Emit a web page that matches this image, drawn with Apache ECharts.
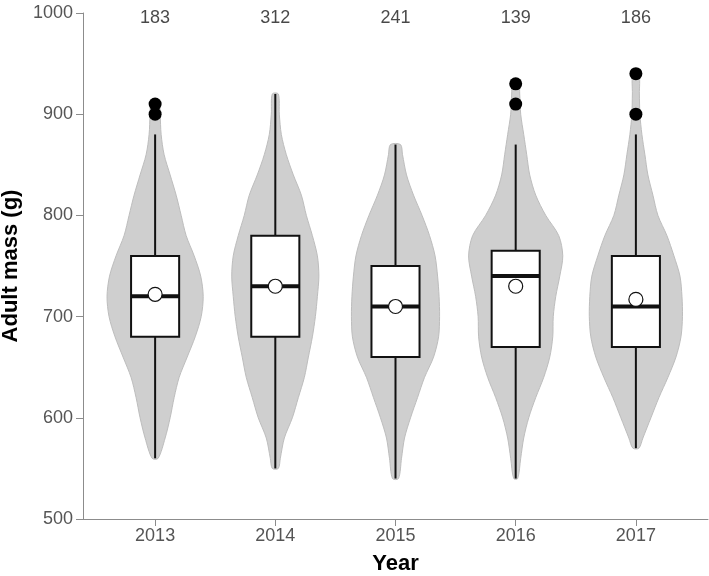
<!DOCTYPE html>
<html><head><meta charset="utf-8">
<script src="https://cdn.jsdelivr.net/npm/echarts@6/dist/echarts.min.js"></script>
<style>html,body{margin:0;padding:0;background:#fff}#c{width:709px;height:576px}</style>
</head><body><div id="c"></div>
<script>
const years = ['2013', '2014', '2015', '2016', '2017'];
const sampleSizes = [183, 312, 241, 139, 186];
const whiskerLow = [560, 550, 540, 540, 570];
const q1 = [680, 680, 660, 670, 670];
const medians = [720, 730, 710, 740, 710];
const q3 = [760, 780, 750, 765, 760];
const whiskerHigh = [880, 920, 870, 870, 880];
const means = [722, 730, 710, 730, 717];
const outlierYear = [0, 0, 3, 3, 4, 4];
const outlierMass = [900, 910, 910, 930, 900, 940];
const yTicks = [500, 600, 700, 800, 900, 1000];

// violin density profiles: mass levels and half-widths (per 120 units of category spacing)
const violinMass2013 = [560,580,600,620,640,660,680,700,720,740,760,780,800,820,840,860,880,900,910];
const violinWidth2013 = [3,10,15,19,24,32,40,46,48,45.5,39,31,26,21,15,9,6,5,4];
const violinMass2014 = [550,560,580,600,620,640,660,680,700,720,740,760,780,800,820,840,860,880,900,920];
const violinWidth2014 = [3,5,9,17,23,29,33,37,40,42,43.5,42,37,31,26,18,11,6,4,3];
const violinMass2015 = [540,560,580,600,620,640,660,680,700,720,740,760,780,800,820,840,860,870];
const violinWidth2015 = [3,6,9,15,22,29,38,43,44,43.5,42,39.5,34,26.5,18,11,7,5];
const violinMass2016 = [540,560,580,600,620,640,660,680,700,720,740,760,780,800,820,840,860,880,900,920,930];
const violinWidth2016 = [2,5,8,13,20,28,34,37,37.5,40,44,47,43,30,20,14,11,8,5,4,3];
const violinMass2017 = [570,580,600,620,640,660,680,700,720,740,760,780,800,820,840,860,880,900,920,940];
const violinWidth2017 = [3,7,15,23,32,40,45,46.5,46,44,38,31,22,17,12,9,6,4,3.5,3];

const violinMass = [violinMass2013, violinMass2014, violinMass2015, violinMass2016, violinMass2017];
const violinWidth = [violinWidth2013, violinWidth2014, violinWidth2015, violinWidth2016, violinWidth2017];
const widthScale = 120;
const boxHalf = 0.2;
const yMin = 500, yMax = 1000;

const tickIdx = years.map((y, i) => i);
const font = '"Liberation Sans", Arial, sans-serif';

const chart = echarts.init(document.getElementById('c'), null, {renderer: 'canvas'});
chart.setOption({
  animation: false,
  backgroundColor: '#fff',
  grid: {left: 83, right: 1, top: 13, bottom: 57, outerBoundsMode: 'none'},
  xAxis: {
    type: 'value', min: -0.6, max: 4.6,
    name: 'Year', nameLocation: 'middle', nameGap: 34,
    nameTextStyle: {fontFamily: font, fontSize: 22, fontWeight: 'bold', color: '#000'},
    axisLine: {show: true, onZero: false, lineStyle: {color: '#8c8c8c', width: 1}},
    axisTick: {show: true, length: 7, customValues: tickIdx, lineStyle: {color: '#8c8c8c'}},
    axisLabel: {customValues: tickIdx, margin: 8, fontFamily: font, fontSize: 18, color: '#555',
      formatter: v => years[Math.round(v)]},
    splitLine: {show: false}
  },
  yAxis: {
    type: 'value', min: yMin, max: yMax, interval: 100,
    name: 'Adult mass (g)', nameLocation: 'middle', nameGap: 56, nameRotate: 90,
    nameTextStyle: {fontFamily: font, fontSize: 22, fontWeight: 'bold', color: '#000'},
    axisLine: {show: true, onZero: false, lineStyle: {color: '#8c8c8c', width: 1}},
    axisTick: {show: true, length: 7, lineStyle: {color: '#8c8c8c'}},
    axisLabel: {margin: 10, fontFamily: font, fontSize: 18, color: '#555', formatter: v => String(v)},
    splitLine: {show: false}
  },
  series: [
    {
      type: 'custom', name: 'violin',
      data: years.map((y, i) => [i]),
      encode: {x: 0},
      clip: false,
      renderItem: (params, api) => {
        const i = params.dataIndex;
        const m = violinMass[i], w = violinWidth[i];
        const pts = [];
        for (let k = 0; k < m.length; k++) pts.push(api.coord([i + w[k] / widthScale, m[k]]));
        for (let k = m.length - 1; k >= 0; k--) pts.push(api.coord([i - w[k] / widthScale, m[k]]));
        return {type: 'polygon', shape: {points: pts, smooth: 0.3},
          style: {fill: '#cfcfcf', stroke: '#bdbdbd', lineWidth: 1}};
      }
    },
    {
      type: 'custom', name: 'box',
      data: years.map((y, i) => [i, whiskerLow[i], q1[i], medians[i], q3[i], whiskerHigh[i]]),
      encode: {x: 0, y: [1, 2, 3, 4, 5]},
      renderItem: (params, api) => {
        const i = api.value(0);
        const lo = api.coord([i, api.value(1)]);
        const b1 = api.coord([i, api.value(2)]);
        const b3 = api.coord([i, api.value(4)]);
        const hi = api.coord([i, api.value(5)]);
        const tl = api.coord([i - boxHalf, api.value(4)]);
        const br = api.coord([i + boxHalf, api.value(2)]);
        const ml = api.coord([i - boxHalf, api.value(3)]);
        const mr = api.coord([i + boxHalf, api.value(3)]);
        const st = {stroke: '#111', lineWidth: 2};
        return {type: 'group', children: [
          {type: 'line', shape: {x1: lo[0], y1: lo[1], x2: b1[0], y2: b1[1]}, style: st},
          {type: 'line', shape: {x1: b3[0], y1: b3[1], x2: hi[0], y2: hi[1]}, style: st},
          {type: 'rect', shape: {x: tl[0], y: tl[1], width: br[0] - tl[0], height: br[1] - tl[1]},
            style: {fill: '#fff', stroke: '#111', lineWidth: 2}},
          {type: 'line', shape: {x1: ml[0], y1: ml[1], x2: mr[0], y2: mr[1]}, style: {stroke: '#111', lineWidth: 4}}
        ]};
      }
    },
    {
      type: 'scatter', name: 'mean',
      data: means.map((m, i) => [i, m]),
      symbol: 'circle', symbolSize: 14,
      itemStyle: {color: '#fff', borderColor: '#111', borderWidth: 1.2, opacity: 1}
    },
    {
      type: 'scatter', name: 'outliers',
      data: outlierMass.map((m, k) => [outlierYear[k], m]),
      symbol: 'circle', symbolSize: 13,
      itemStyle: {color: '#000', opacity: 1}
    },
    {
      type: 'scatter', name: 'n',
      data: sampleSizes.map((n, i) => [i, yMax - 5]),
      symbolSize: 0,
      label: {show: true, position: 'inside', fontFamily: font, fontSize: 18, color: '#1a1a1a',
        formatter: p => String(sampleSizes[p.dataIndex])}
    }
  ]
});
</script></body></html>
